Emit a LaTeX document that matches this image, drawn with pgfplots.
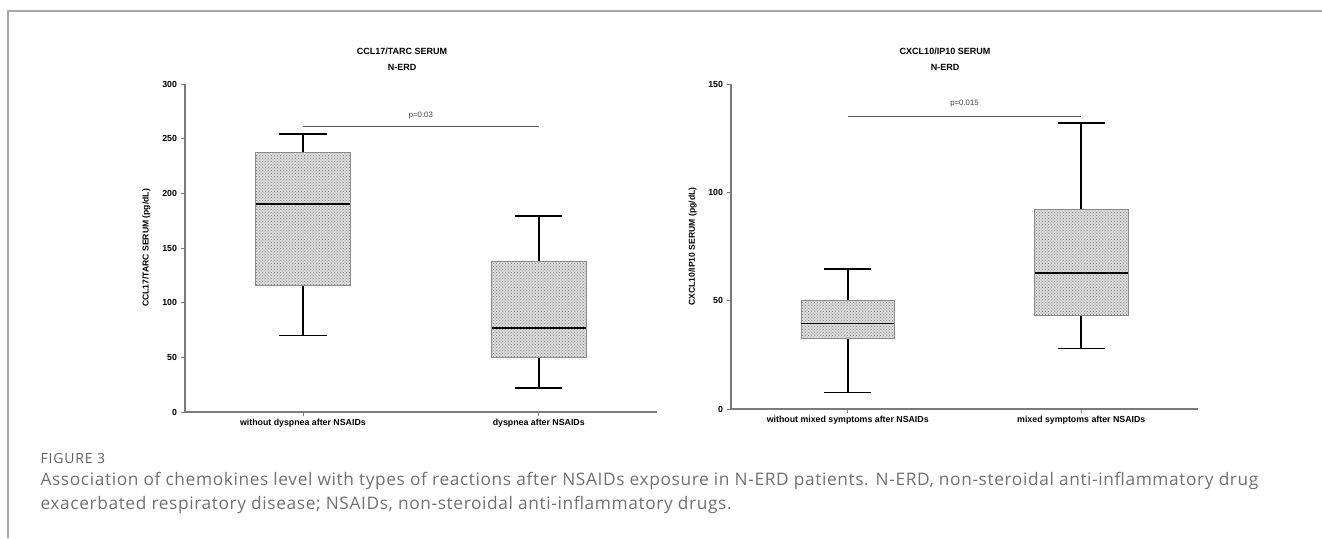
\documentclass[border=0pt]{standalone}
\usepackage{pgfplots}
\pgfplotsset{compat=1.18}
\usepgfplotslibrary{statistics}
\usetikzlibrary{patterns}
\usepackage{fontspec}
\setmainfont{Liberation Sans}
\newfontfamily\capfont[LetterSpace=3.6]{Open Sans}
\newfontfamily\figfont[LetterSpace=6]{Open Sans}
\definecolor{axgray}{HTML}{7A7A7A}
\definecolor{boxfill}{HTML}{DCDCDC}
\definecolor{boxedge}{HTML}{8A8A8A}
\definecolor{capgray}{HTML}{707070}
\definecolor{framegray}{HTML}{A8A8A8}
\pgfplotsset{
  boxstyle/.style={
    scale only axis,
    axis lines=left,
    axis line style={axgray, line width=1.2pt, -},
    tick style={axgray, line width=0.8pt},
    tick align=outside,
    major tick length=4pt,
    xmin=0.5, xmax=2.5,
    xtick={1,2},
    ytick pos=left, xtick pos=bottom,
    /pgf/number format/assume math mode=true,
    yticklabel style={font=\bfseries\fontsize{8.8}{10}\selectfont, xshift=-0.5pt},
    xticklabel style={font=\bfseries\fontsize{8.8}{10}\selectfont, yshift=0pt},
    ylabel style={font=\bfseries\fontsize{8.6}{10}\selectfont, at={(axis description cs:-0.082,0.5)}, anchor=center},
    boxplot/draw direction=y,
    boxplot/box extend=0.4,
    boxplot/whisker extend=0.2,
    boxplot/every box/.style={draw=boxedge, fill=boxfill, line width=0.9pt,
      postaction={pattern=crosshatch dots, pattern color=black!50}},
    boxplot/every whisker/.style={draw=black, line width=1.6pt},
    boxplot/every median/.style={draw=black, line width=1.8pt},
    clip=false,
  }
}
\begin{document}
\begin{tikzpicture}
\path[use as bounding box] (0pt,0pt) rectangle (1322pt,538pt);
% frame
\draw[framegray, line width=1.2pt] (8pt,0pt) -- (8pt,527pt) -- (1322pt,527pt);

% left axis
\begin{axis}[boxstyle,
  at={(185pt,126pt)}, anchor=south west,
  width=471.7pt, height=328pt,
  ymin=0, ymax=300, ytick={0,50,100,150,200,250,300},
  xticklabels={without dyspnea after NSAIDs, dyspnea after NSAIDs},
  ylabel={CCL17/TARC SERUM (pg/dL)},
]
\addplot[boxplot prepared={draw position=1, lower whisker=70, lower quartile=116, median=190, upper quartile=237, upper whisker=254}] coordinates {};
\addplot[boxplot prepared={draw position=2, lower whisker=22, lower quartile=50, median=77, upper quartile=138, upper whisker=179}] coordinates {};
\addplot[black!65, line width=0.9pt] coordinates {(1,261) (2,261)};
\node[font=\fontsize{7.8}{9}\selectfont, text=black!75] at (axis cs:1.5,271) {p=0.03};
\end{axis}

% right axis
\begin{axis}[boxstyle,
  at={(731pt,129pt)}, anchor=south west,
  width=467pt, height=325pt,
  ymin=0, ymax=150, ytick={0,50,100,150},
  xticklabels={without mixed symptoms after NSAIDs, mixed symptoms after NSAIDs},
  ylabel={CXCL10/IP10 SERUM (pg/dL)},
]
\addplot[boxplot prepared={draw position=1, lower whisker=7.7, lower quartile=32.6, median=39.5, upper quartile=50, upper whisker=64.7}] coordinates {};
\addplot[boxplot prepared={draw position=2, lower whisker=28, lower quartile=43.2, median=62.8, upper quartile=92, upper whisker=132}] coordinates {};
\addplot[black!65, line width=0.9pt] coordinates {(1,135) (2,135)};
\node[font=\fontsize{7.8}{9}\selectfont, text=black!75] at (axis cs:1.5,141) {p=0.015};
\end{axis}

% titles
\node[font=\bfseries\fontsize{9}{10}\selectfont] at (402pt,487pt) {CCL17/TARC SERUM};
\node[font=\bfseries\fontsize{9}{10}\selectfont] at (402pt,471pt) {N-ERD};
\node[font=\bfseries\fontsize{9}{10}\selectfont] at (945pt,487pt) {CXCL10/IP10 SERUM};
\node[font=\bfseries\fontsize{9}{10}\selectfont] at (945pt,471pt) {N-ERD};

% caption
\node[anchor=west, font=\figfont\fontsize{14}{16}\selectfont, text=black!62] at (37pt,79pt) {FIGURE 3};
\node[anchor=west, font=\capfont\fontsize{17.3}{20}\selectfont, text=capgray] at (37pt,57pt) {Association of chemokines level with types of reactions after NSAIDs exposure in N-ERD patients. N-ERD, non-steroidal anti-inflammatory drug};
\node[anchor=west, font=\capfont\fontsize{17.3}{20}\selectfont, text=capgray] at (37pt,33pt) {exacerbated respiratory disease; NSAIDs, non-steroidal anti-inflammatory drugs.};
\end{tikzpicture}
\end{document}
